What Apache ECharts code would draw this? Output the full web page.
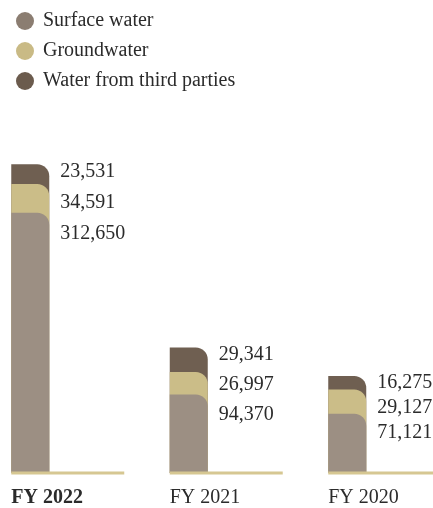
<!DOCTYPE html>
<html>
<head>
<meta charset="utf-8">
<script src="https://cdn.jsdelivr.net/npm/echarts@6/dist/echarts.min.js"></script>
<style>
  html, body { margin: 0; padding: 0; background: #fff; overflow: hidden; }
  /* the chart is widened to the left so the first bar can sit near the edge */
  #chart { position: absolute; left: -49px; top: 0; width: 482px; height: 508px; }
</style>
</head>
<body>
<div id="chart"></div>
<script>
const years = ['FY 2022', 'FY 2021', 'FY 2020']
const surface = [312650, 94370, 71121]
const ground = [34591, 26997, 29127]
const thirdParty = [23531, 29341, 16275]

// spacing of the value labels next to each bar
const lineGaps = [31, 30, 25]

const fmt = v => v.toLocaleString('en-US')
const serif = '"Liberation Serif", "DejaVu Serif", serif'

const groundTop = surface.map((v, i) => v + ground[i])
const total = groundTop.map((v, i) => v + thirdParty[i])

const chart = echarts.init(document.getElementById('chart'))

const barBase = {
  type: 'bar',
  barWidth: 38,
  barGap: '-100%',
  silent: true,
  itemStyle: { borderRadius: [0, 12, 0, 0] }
}

chart.setOption({
  animation: false,
  textStyle: { fontFamily: serif },
  legend: {
    orient: 'vertical',
    left: 60,
    top: 6,
    icon: 'circle',
    itemWidth: 18,
    itemHeight: 18,
    itemGap: 10,
    selectedMode: false,
    data: [
      { name: 'Surface water', itemStyle: { color: '#8b7d71' } },
      { name: 'Groundwater', itemStyle: { color: '#c9ba85' } },
      { name: 'Water from third parties', itemStyle: { color: '#6b5b4d' } }
    ],
    textStyle: { fontFamily: serif, fontSize: 20, lineHeight: 20, color: '#2b2b2b', padding: [0, 0, 0, 4] }
  },
  grid: { left: 0, right: 6.5, top: 140, bottom: 35 },
  xAxis: {
    type: 'category',
    data: years,
    axisLine: { show: false },
    axisTick: { show: false },
    axisLabel: {
      margin: 15,
      formatter: (v, i) => (i === 0 ? '{b|' + v + '}' : '{n|' + v + '}'),
      rich: {
        b: { width: 38, align: 'left', fontFamily: serif, fontSize: 20, fontWeight: 'bold', color: '#2b2b2b' },
        n: { width: 38, align: 'left', fontFamily: serif, fontSize: 20, color: '#2b2b2b' }
      }
    }
  },
  yAxis: { type: 'value', min: 0, max: 400000, show: false },
  series: [
    {
      ...barBase,
      name: 'Water from third parties',
      color: '#6f5f51',
      data: total.map((v, i) => ({
        value: v,
        label: {
          show: true,
          position: [49, 7 - lineGaps[i] / 2],
          align: 'left',
          verticalAlign: 'top',
          lineHeight: lineGaps[i],
          fontFamily: serif,
          fontSize: 20,
          color: '#2b2b2b',
          formatter: () => [thirdParty[i], ground[i], surface[i]].map(fmt).join('\n')
        }
      }))
    },
    { ...barBase, name: 'Groundwater', color: '#cbbd88', data: groundTop },
    { ...barBase, name: 'Surface water', color: '#9c8f83', data: surface },
    {
      type: 'pictorialBar',
      silent: true,
      z: 5,
      symbol: 'rect',
      symbolSize: [113, 3],
      symbolPosition: 'start',
      symbolOffset: [37.5, 1.5],
      color: '#d6c792',
      data: [0, 0, 0]
    }
  ]
})
</script>
</body>
</html>
